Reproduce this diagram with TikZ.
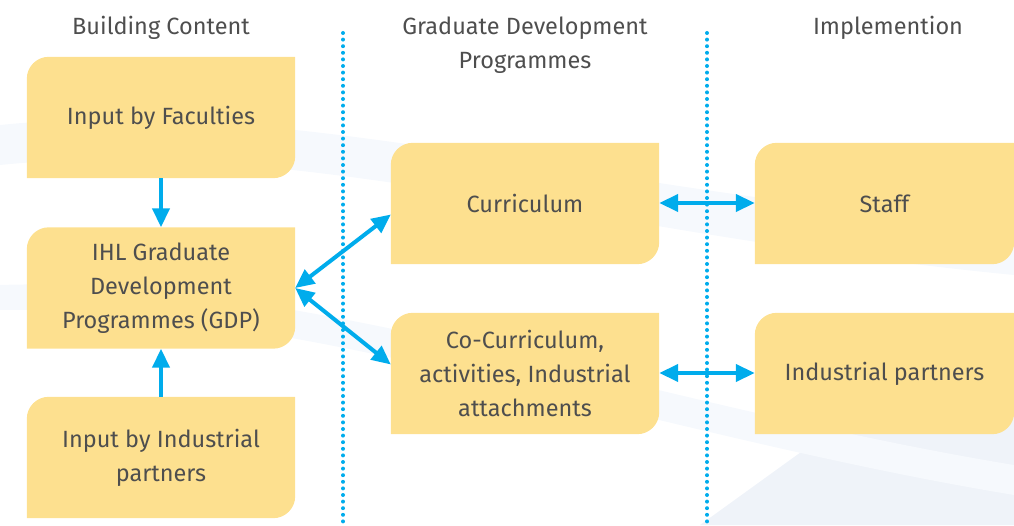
\documentclass[tikz,border=0pt]{standalone}
\usepackage{fontspec}
\setmainfont{Fira Sans}
\usetikzlibrary{arrows.meta,backgrounds}
\definecolor{boxfill}{RGB}{253,224,143}
\definecolor{arrowblue}{RGB}{0,172,236}
\definecolor{txtgray}{RGB}{78,78,78}
\definecolor{swoosh}{RGB}{246,249,253}
\definecolor{swooshb}{RGB}{239,243,249}
\tikzset{
  stepbox/.style={minimum width=268pt, minimum height=121pt, inner sep=0pt, align=center,
    text=txtgray, font=\fontsize{23.5}{34}\selectfont},
  header/.style={align=center, text=txtgray, font=\fontsize{23.5}{34}\selectfont},
  link/.style={draw=arrowblue, line width=4pt, {Triangle[length=19pt,width=17pt]}-{Triangle[length=19pt,width=17pt]}},
  onelink/.style={draw=arrowblue, line width=4pt, -{Triangle[length=19pt,width=17pt]}},
  divider/.style={draw=arrowblue, line width=4pt, line cap=round, dash pattern=on 0pt off 6.6pt},
}
\begin{document}
\begin{tikzpicture}[x=1pt,y=1pt]
\useasboundingbox (0,0) rectangle (1014,525);

% headers
\node[header] (h1) at (161,497) {Building Content};
\node[header, anchor=north] (h2) at (525,512) {Graduate Development\\Programmes};
\node[header] (h3) at (888,497) {Implemention};

% boxes
\node[stepbox] (fac) at (161,407.5) {Input by Faculties};
\node[stepbox] (ihl) at (161,237) {IHL Graduate\\Development\\Programmes (GDP)};
\node[stepbox] (ind) at (161,67.5) {Input by Industrial\\partners};
\node[stepbox] (cur) at (525,321.5) {Curriculum};
\node[stepbox] (cocur) at (525,151.5) {Co-Curriculum,\\activities, Industrial\\attachments};
\node[stepbox, minimum width=259pt] (staff) at (884.5,321.5) {Staff};
\node[stepbox, minimum width=259pt] (ipart) at (884.5,151.5) {Industrial partners};

\begin{scope}[on background layer]
% faint background swooshes
\fill[swoosh] (0,400) .. controls (300,430) and (600,330) .. (1014,300) -- (1014,250) .. controls (600,290) and (300,390) .. (0,360) -- cycle;
\fill[swooshb] (700,0) -- (880,130) .. controls (940,170) and (990,200) .. (1014,210) -- (1014,0) -- cycle;
\fill[swoosh] (0,240) .. controls (300,250) and (650,120) .. (1014,60) -- (1014,30) .. controls (650,90) and (300,220) .. (0,215) -- cycle;
\foreach \n in {fac,ihl,ind,cur,cocur,staff,ipart}
  \fill[boxfill] (\n.south west) -- ([yshift=-22pt]\n.north west)
    arc[start angle=180,end angle=90,radius=22pt] -- (\n.north east)
    -- ([yshift=22pt]\n.south east) arc[start angle=0,end angle=-90,radius=22pt] -- cycle;
\end{scope}

% dividers
\coordinate (d1t) at (343,492);
\coordinate (d1b) at (343,0);
\coordinate (d2t) at (707,492);
\coordinate (d2b) at (707,0);
\draw[divider] (d1t) -- (d1b);
\draw[divider] (d2t) -- (d2b);

% connectors
\draw[onelink] (fac.south) -- (ihl.north);
\draw[onelink] (ind.north) -- (ihl.south);
\draw[link] (ihl.east) -- ([yshift=-11pt]cur.west);
\draw[link] (ihl.east) -- ([yshift=9pt]cocur.west);
\draw[link] ([yshift=0.5pt]cur.east) -- ([yshift=0.5pt]staff.west);
\draw[link] ([yshift=0.5pt]cocur.east) -- ([yshift=0.5pt]ipart.west);
\end{tikzpicture}
\end{document}
